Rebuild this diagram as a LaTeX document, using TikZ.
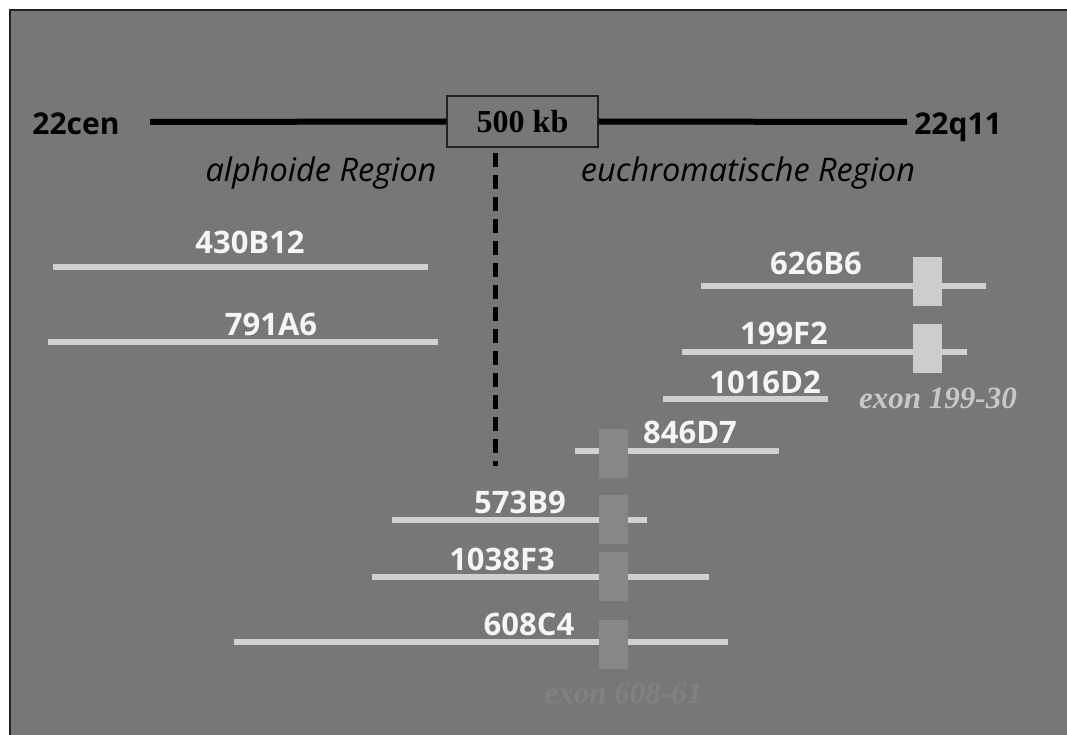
\documentclass[tikz,border=0pt]{standalone}
\usepackage{fontspec}
\newfontfamily\comic{Open Sans}
\newfontfamily\tnr{Liberation Serif}
\definecolor{bg}{HTML}{777777}
\definecolor{clone}{HTML}{D0D0D0}
\definecolor{exonlight}{HTML}{CCCCCC}
\definecolor{exondark}{HTML}{878787}
\definecolor{exontxtlight}{HTML}{C8C8C8}
\definecolor{exontxtdark}{HTML}{818181}
\definecolor{frame}{HTML}{222222}
\begin{document}
\begin{tikzpicture}[x=1pt,y=-1pt,
  clonebar/.style={draw=clone,line width=6pt},
  clonelbl/.style={anchor=base,inner sep=0pt,text=white!96!black,font=\comic\bfseries\fontsize{31}{34}\selectfont},
  endlbl/.style={anchor=base,inner sep=0pt,text=black,font=\comic\bfseries\fontsize{30}{34}\selectfont},
  regionlbl/.style={anchor=base,inner sep=0pt,text=black,font=\comic\itshape\fontsize{32.5}{36}\selectfont},
  exonbox/.style={inner sep=0pt,minimum width=29pt,minimum height=49pt},
  exonlbl/.style={anchor=base,inner sep=0pt,font=\tnr\bfseries\itshape\fontsize{31}{34}\selectfont}]
\useasboundingbox (0,0) rectangle (1067,735);
\fill[white] (0,0) rectangle (1067,735);
\fill[bg] (9,9) rectangle (1075,745);
\draw[frame,line width=2pt] (10,745) -- (10,10) -- (1075,10);

% chromosome axis
\node[endlbl] (cen) at (76,135) {22cen};
\node[endlbl] (q11) at (958,135) {22q11};
\node[draw=frame,line width=1.4pt,inner sep=0pt,minimum width=151pt,minimum height=51pt,
      font=\tnr\bfseries\fontsize{32}{36}\selectfont] (kb) at (522.5,121.5) {500 kb};
\coordinate (axL) at (150,122);
\coordinate (axR) at (907,122);
\draw[black,line width=6pt] (axL) -- (kb.west);
\draw[black,line width=6pt] (kb.east) -- (axR);
\node[regionlbl] (alph) at (321,182) {alphoide Region};
\node[regionlbl] (euch) at (748,182) {euchromatische Region};
\coordinate (dT) at (495,153);
\coordinate (dB) at (495,466);
\draw[black,line width=5pt,dash pattern=on 14pt off 8pt] (dT) -- (dB);

% exon boxes on the right
\node[exonbox,fill=exonlight] (e1) at (927.5,281.5) {};
\node[exonbox,fill=exonlight] (e2) at (927.5,348.5) {};

% clones
\draw[clonebar] (53,266.5) -- (428,266.5);
\node[clonelbl] (c430) at (250,253) {430B12};
\draw[clonebar] (48,342) -- (438,342);
\node[clonelbl] (c791) at (271,335) {791A6};

\draw[clonebar] (701,285.5) -- (913,285.5) (942,285.5) -- (986,285.5);
\node[clonelbl] (c626) at (816,274) {626B6};
\draw[clonebar] (682,352) -- (913,352) (942,352) -- (967,352);
\node[clonelbl] (c199) at (784,344) {199F2};
\draw[clonebar] (663,399) -- (828,399);
\node[clonelbl] (c1016) at (765,393) {1016D2};
\node[exonlbl,text=exontxtlight] (ex1) at (938,408) {exon 199-30};

\draw[clonebar] (575,451) -- (779,451);
\node[clonelbl] (c846) at (690,443) {846D7};
\draw[clonebar] (392,520) -- (647,520);
\node[clonelbl] (c573) at (520,513) {573B9};
\draw[clonebar] (372,577) -- (709,577);
\node[clonelbl] (c1038) at (502,570) {1038F3};
\draw[clonebar] (234,642) -- (728,642);
\node[clonelbl] (c608) at (529,635) {608C4};

% exon boxes at the lower left
\node[exonbox,fill=exondark] (e3) at (613.5,453) {};
\node[exonbox,fill=exondark] (e4) at (613.5,519) {};
\node[exonbox,fill=exondark] (e5) at (613.5,576.5) {};
\node[exonbox,fill=exondark] (e6) at (613.5,644) {};
\node[exonlbl,text=exontxtdark] (ex2) at (623.5,703) {exon 608-61};
\end{tikzpicture}
\end{document}
